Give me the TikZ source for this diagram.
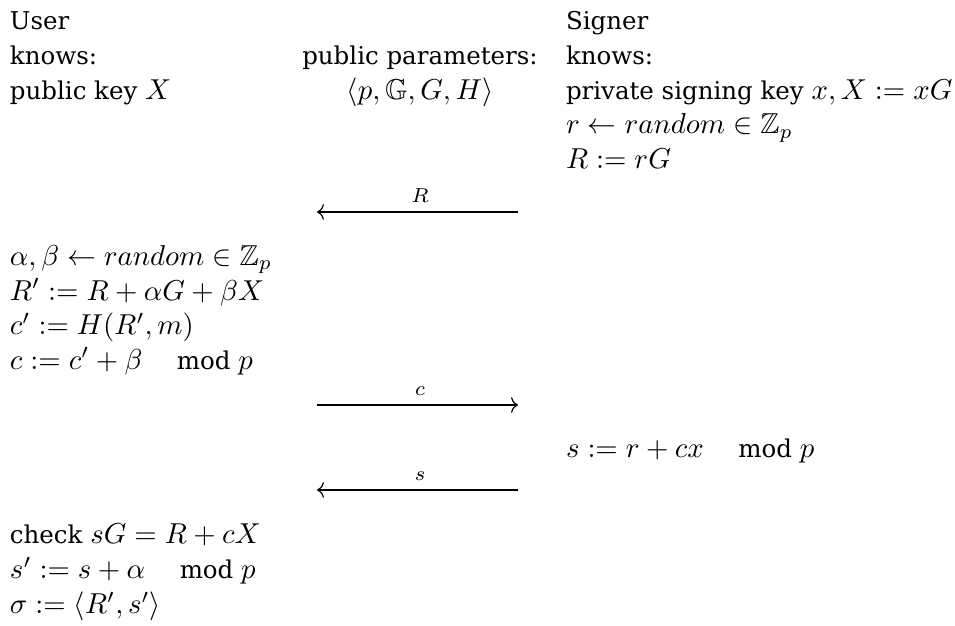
\documentclass[tikz,border=0pt]{standalone}
\usepackage{amsmath,amssymb}
\usepackage{fontspec}
\setmainfont{DejaVu Serif}[Scale=0.85]
\usetikzlibrary{arrows.meta}
\newcommand{\mymod}[1]{\hskip 12pt\text{mod}\ #1}
\begin{document}
\begin{tikzpicture}[x=0.3472pt,y=-0.3472pt,
  txt/.style={anchor=base west,inner sep=0pt,outer sep=0pt},
  ctxt/.style={anchor=base,inner sep=0pt,outer sep=0pt},
  lbl/.style={anchor=base,inner sep=0pt,font=\scriptsize},
  msg/.style={line width=0.4pt,-{Computer Modern Rightarrow[length=2.4pt,width=5.4pt]}}]
\useasboundingbox (0,0) rectangle (955,626);
% user column
\node[txt] (u1) at (10,30) {User};
\node[txt] (u2) at (10,64.6) {knows:};
\node[txt] (u3) at (10,99.2) {public key $X$};
% public column
\node[ctxt] (p1) at (420,64.6) {public parameters:};
\node[ctxt] (p2) at (420,99.2) {$\langle p,\mathbb{G},G,H\rangle$};
% signer column
\node[txt] (s1) at (566,30) {Signer};
\node[txt] (s2) at (566,64.6) {knows:};
\node[txt] (s3) at (566,99.2) {private signing key $x, X := xG$};
\node[txt] (s4) at (566,133.8) {$r \leftarrow random \in \mathbb{Z}_p$};
\node[txt] (s5) at (566,168.4) {$R := rG$};
% message R
\coordinate (aR) at (518,212);
\coordinate (bR) at (317,212);
\draw[msg] (aR) -- (bR);
\node[lbl] (lR) at (420,203) {$R$};
% user computations
\node[txt] (u4) at (10,265.5) {$\alpha, \beta \leftarrow random \in \mathbb{Z}_p$};
\node[txt] (u5) at (10,300.1) {$R' := R + \alpha G + \beta X$};
\node[txt] (u6) at (10,334.7) {$c' := H(R', m)$};
\node[txt] (u7) at (10,369.3) {$c := c' + \beta \mymod{p}$};
% message c
\coordinate (ac) at (317,405);
\coordinate (bc) at (518,405);
\draw[msg] (ac) -- (bc);
\node[lbl] (lc) at (420,396) {$c$};
% signer response
\node[txt] (s6) at (566,458) {$s := r + cx \mymod{p}$};
% message s
\coordinate (as) at (518,490);
\coordinate (bs) at (317,490);
\draw[msg] (as) -- (bs);
\node[lbl] (ls) at (420,481) {$s$};
% user final
\node[txt] (u8) at (10,544) {check $sG = R + cX$};
\node[txt] (u9) at (10,579) {$s' := s + \alpha \mymod{p}$};
\node[txt] (u10) at (10,614) {$\sigma := \langle R', s'\rangle$};
\end{tikzpicture}
\end{document}
